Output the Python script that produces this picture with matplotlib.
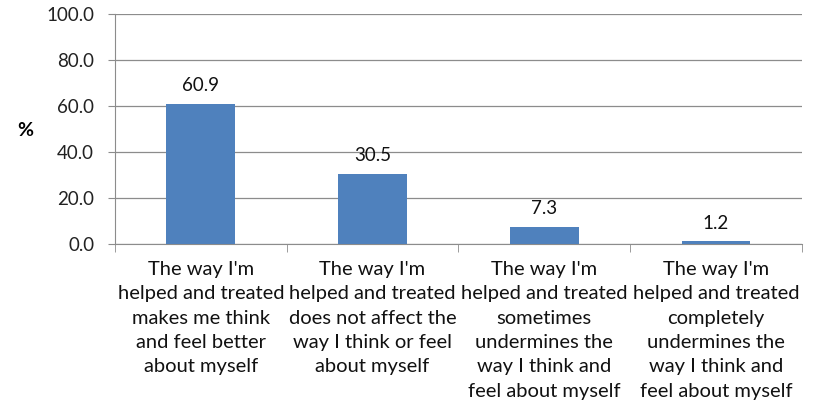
import matplotlib.pyplot as plt
import numpy as np

categories = [
    "The way I'm\nhelped and treated\nmakes me think\nand feel better\nabout myself",
    "The way I'm\nhelped and treated\ndoes not affect the\nway I think or feel\nabout myself",
    "The way I'm\nhelped and treated\nsometimes\nundermines the\nway I think and\nfeel about myself",
    "The way I'm\nhelped and treated\ncompletely\nundermines the\nway I think and\nfeel about myself",
]
values = [60.9, 30.5, 7.3, 1.2]
yticks = [0, 20, 40, 60, 80, 100]

plt.rcParams['font.family'] = ['Lato', 'DejaVu Sans']
fig = plt.figure(figsize=(8.19, 4.07), dpi=100)
ax = fig.add_axes([0.1404, 0.4005, 0.979 - 0.1404, 0.9656 - 0.4005])

x = np.arange(len(values))
bars = ax.bar(x, values, width=0.4, color='#4F81BD', zorder=3)
for b, v in zip(bars, values):
    ax.annotate(f"{v:.1f}", (b.get_x() + b.get_width() / 2, v),
                xytext=(0, 7), textcoords='offset points',
                ha='center', va='bottom', fontsize=13.5, color='#111111')

ax.set_xlim(-0.5, len(values) - 0.5)
ax.set_ylim(0, 100)
ax.set_yticks(yticks)
ax.set_yticklabels([f"{t:.1f}" for t in yticks], fontsize=13.5, color='#222222')
ax.yaxis.grid(True, color='#8c8c8c', linewidth=0.9, zorder=0)
ax.tick_params(axis='y', length=5, color='#8c8c8c', pad=10)

ax.set_xticks(x)
ax.set_xticklabels(categories, fontsize=14.5, color='#111111', linespacing=1.53)
ax.tick_params(axis='x', length=0, pad=12)
ax.set_xticks(np.arange(len(values) + 1) - 0.5, minor=True)
ax.tick_params(axis='x', which='minor', length=6, color='#8c8c8c')

for s in ['top', 'right']:
    ax.spines[s].set_visible(False)
for s in ['left', 'bottom']:
    ax.spines[s].set_color('#8c8c8c')

fig.text(25.5 / 819, 1 - 130 / 407, "%", fontsize=14, fontweight='bold',
         ha='center', va='center')

fig.savefig('out.png', dpi=100)
